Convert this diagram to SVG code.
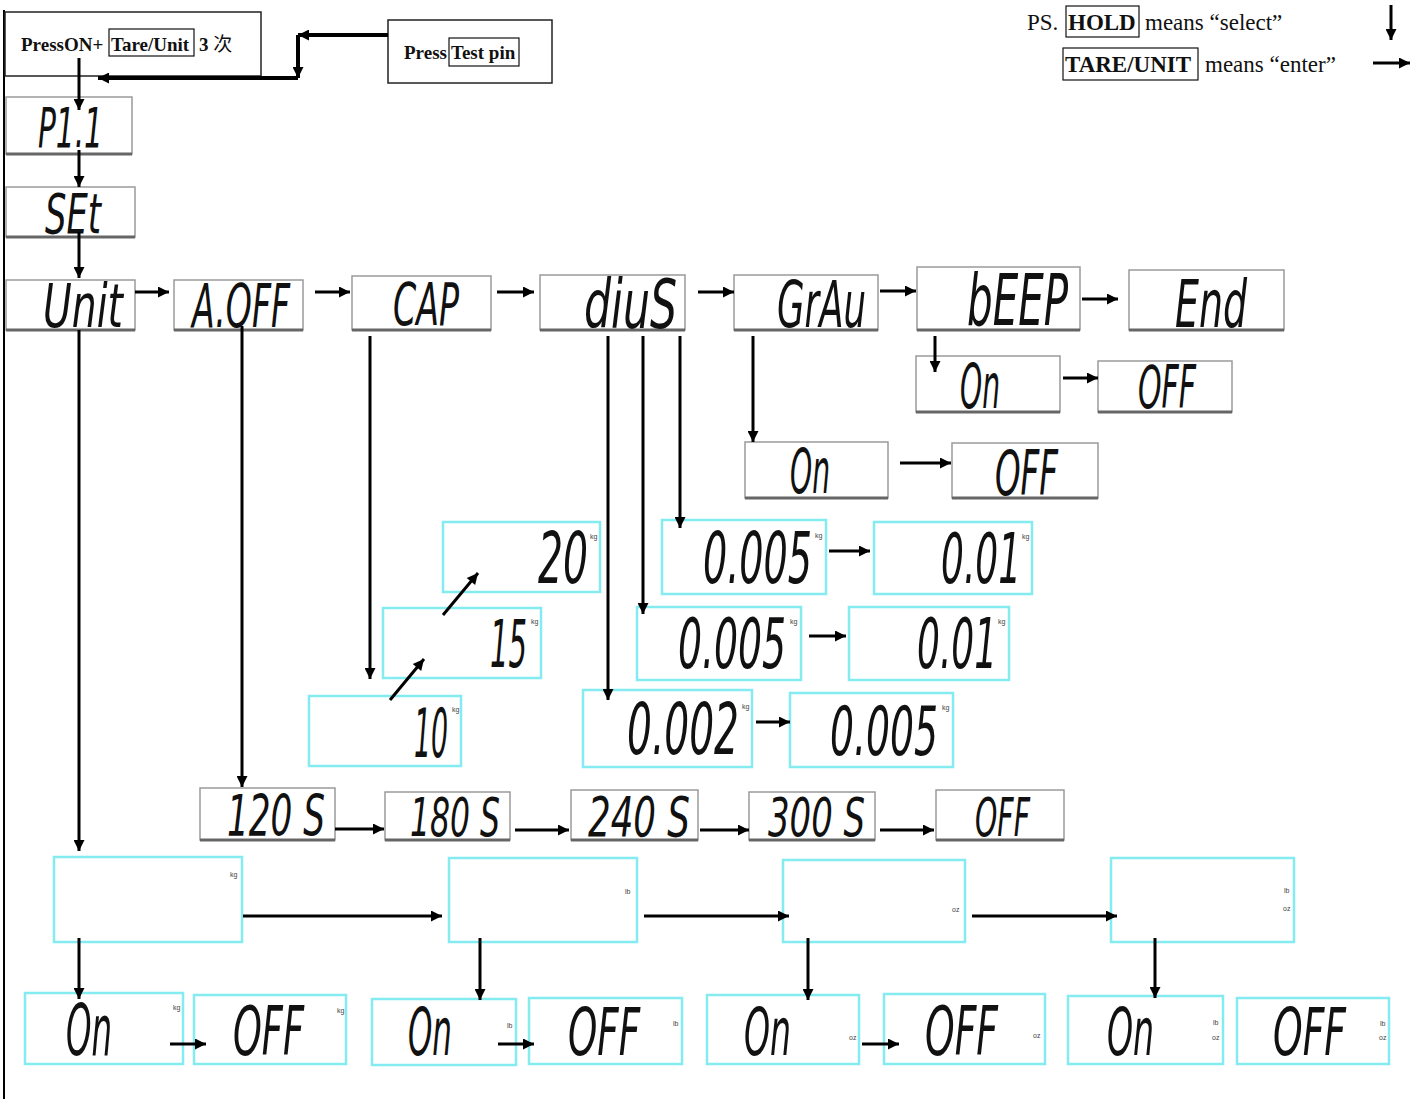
<svg xmlns="http://www.w3.org/2000/svg" width="1419" height="1099" viewBox="0 0 1419 1099">
<defs>
<marker id="ah" viewBox="0 0 10 10" refX="10" refY="5" markerWidth="13" markerHeight="11" markerUnits="userSpaceOnUse" orient="auto"><path d="M0,0 L10,5 L0,10 z" fill="#000"/></marker>
</defs>
<style>
.hd{font-family:"Liberation Serif","Times New Roman",serif;font-weight:bold;font-size:19px;fill:#111}
.lg{font-family:"Liberation Serif","Times New Roman",serif;font-size:23px;fill:#111}
.lgb{font-family:"Liberation Serif","Times New Roman",serif;font-size:23px;font-weight:bold;fill:#111}
.kbox{fill:none;stroke:#111;stroke-width:1.2}
.g rect{fill:#fff;stroke:#9a9a9a;stroke-width:1.5}
.g line{stroke:#666;stroke-width:3}
.c rect{fill:#fff;stroke:#84ecf0;stroke-width:2.5}
.lcd{font-family:"DejaVu Sans Condensed","DejaVu Sans",sans-serif;fill:#111;font-style:italic}
.u{font-family:"Liberation Sans",Arial,sans-serif;font-size:7px;fill:#444}
.cn path{fill:none;stroke:#000;stroke-width:3;marker-end:url(#ah)}
</style>
<rect width="1419" height="1099" fill="#fff"/>
<line x1="4" y1="10" x2="4" y2="1099" stroke="#000" stroke-width="2"/>

<g id="start1">
<rect x="5" y="12" width="256" height="64" fill="none" stroke="#222" stroke-width="1.5"/>
<text class="hd" x="21" y="51">PressON+</text>
<rect class="kbox" x="109" y="29" width="85" height="27"/>
<text class="hd" x="111" y="51">Tare/Unit</text>
<text class="hd" x="199" y="51">3 <tspan font-family="Noto Sans CJK SC,sans-serif" font-weight="normal">次</tspan></text>
</g>
<g id="start2">
<rect x="388" y="20" width="164" height="63" fill="none" stroke="#222" stroke-width="1.5"/>
<text class="hd" x="404" y="59">Press</text>
<rect class="kbox" x="449" y="38" width="70" height="28"/>
<text class="hd" x="451" y="59">Test pin</text>
</g>
<g id="legend">
<text class="lg" x="1027" y="30">PS.</text>
<rect class="kbox" x="1066" y="6" width="73" height="31"/>
<text class="lgb" x="1068" y="30">HOLD</text>
<text class="lg" x="1145" y="30">means “select”</text>
<rect class="kbox" x="1063" y="48" width="135" height="32"/>
<text class="lgb" x="1065" y="72">TARE/UNIT</text>
<text class="lg" x="1205" y="72">means “enter”</text>
</g>

<g id="n-p11" class="g"><rect x="6" y="97" width="126" height="57"/><line x1="6" y1="154" x2="132" y2="154"/><text class="lcd" transform="translate(38,147) scale(0.588,1)" font-size="56" textLength="110.5" lengthAdjust="spacingAndGlyphs">P1.1</text></g>
<g id="n-set" class="g"><rect x="6" y="187" width="129" height="50"/><line x1="6" y1="237" x2="135" y2="237"/><text class="lcd" transform="translate(45,233) scale(0.67,1)" font-size="56" textLength="83.6" lengthAdjust="spacingAndGlyphs">SEt</text></g>
<g id="n-unit" class="g"><rect x="6" y="280" width="129" height="50"/><line x1="6" y1="330" x2="135" y2="330"/><text class="lcd" transform="translate(43,327) scale(0.728,1)" font-size="60" textLength="109.9" lengthAdjust="spacingAndGlyphs">Unit</text></g>
<g id="n-aoff" class="g"><rect x="174" y="280" width="129" height="50"/><line x1="174" y1="330" x2="303" y2="330"/><text class="lcd" transform="translate(192,327) scale(0.618,1)" font-size="60" textLength="158.7" lengthAdjust="spacingAndGlyphs">A.OFF</text></g>
<g id="n-cap" class="g"><rect x="352" y="276" width="139" height="54"/><line x1="352" y1="330" x2="491" y2="330"/><text class="lcd" transform="translate(393,325) scale(0.626,1)" font-size="59" textLength="105.4" lengthAdjust="spacingAndGlyphs">CAP</text></g>
<g id="n-divs" class="g"><rect x="540" y="275" width="145" height="55"/><line x1="540" y1="330" x2="685" y2="330"/><text class="lcd" transform="translate(584,328) scale(0.697,1)" font-size="68" textLength="133.5" lengthAdjust="spacingAndGlyphs">diuS</text></g>
<g id="n-grav" class="g"><rect x="734" y="275" width="144" height="55"/><line x1="734" y1="330" x2="878" y2="330"/><text class="lcd" transform="translate(777,327) scale(0.617,1)" font-size="64" textLength="144.2" lengthAdjust="spacingAndGlyphs">GrAu</text></g>
<g id="n-beep" class="g"><rect x="917" y="267" width="163" height="63"/><line x1="917" y1="330" x2="1080" y2="330"/><text class="lcd" transform="translate(967,325) scale(0.632,1)" font-size="71" textLength="159.9" lengthAdjust="spacingAndGlyphs">bEEP</text></g>
<g id="n-end" class="g"><rect x="1129" y="270" width="155" height="60"/><line x1="1129" y1="330" x2="1284" y2="330"/><text class="lcd" transform="translate(1175,327) scale(0.638,1)" font-size="66" textLength="112.9" lengthAdjust="spacingAndGlyphs">End</text></g>
<g id="n-beep-on" class="g"><rect x="916" y="356" width="144" height="56"/><line x1="916" y1="412" x2="1060" y2="412"/><text class="lcd" transform="translate(960,408) scale(0.504,1)" font-size="62" textLength="79.3" lengthAdjust="spacingAndGlyphs">On</text></g>
<g id="n-beep-off" class="g"><rect x="1098" y="361" width="134" height="51"/><line x1="1098" y1="412" x2="1232" y2="412"/><text class="lcd" transform="translate(1138,408) scale(0.574,1)" font-size="58" textLength="101.1" lengthAdjust="spacingAndGlyphs">OFF</text></g>
<g id="n-grav-on" class="g"><rect x="745" y="442" width="143" height="56"/><line x1="745" y1="498" x2="888" y2="498"/><text class="lcd" transform="translate(790,493) scale(0.504,1)" font-size="62" textLength="79.3" lengthAdjust="spacingAndGlyphs">On</text></g>
<g id="n-grav-off" class="g"><rect x="952" y="443" width="146" height="55"/><line x1="952" y1="498" x2="1098" y2="498"/><text class="lcd" transform="translate(995,495) scale(0.574,1)" font-size="63" textLength="109.8" lengthAdjust="spacingAndGlyphs">OFF</text></g>

<g id="n-cap20" class="c"><rect x="443" y="522" width="157" height="70"/><text class="lcd" transform="translate(538,583) scale(0.615,1)" font-size="71" textLength="81.3" lengthAdjust="spacingAndGlyphs">20</text><text class="u" x="590" y="539">kg</text></g>
<g id="n-cap15" class="c"><rect x="383" y="608" width="158" height="70"/><text class="lcd" transform="translate(490,667) scale(0.49,1)" font-size="66" textLength="75.6" lengthAdjust="spacingAndGlyphs">15</text><text class="u" x="531" y="624">kg</text></g>
<g id="n-cap10" class="c"><rect x="309" y="696" width="152" height="70"/><text class="lcd" transform="translate(414,757) scale(0.437,1)" font-size="68" textLength="77.8" lengthAdjust="spacingAndGlyphs">10</text><text class="u" x="452" y="712">kg</text></g>

<g id="n-d1a" class="c"><rect x="662" y="520" width="164" height="74"/><text class="lcd" transform="translate(703,583) scale(0.596,1)" font-size="71" textLength="182.9" lengthAdjust="spacingAndGlyphs">0.005</text><text class="u" x="815" y="538">kg</text></g>
<g id="n-d1b" class="c"><rect x="874" y="522" width="158" height="72"/><text class="lcd" transform="translate(941,583) scale(0.571,1)" font-size="70" textLength="140.2" lengthAdjust="spacingAndGlyphs">0.01</text><text class="u" x="1022" y="539">kg</text></g>
<g id="n-d2a" class="c"><rect x="637" y="607" width="164" height="73"/><text class="lcd" transform="translate(678,668) scale(0.599,1)" font-size="70" textLength="180.3" lengthAdjust="spacingAndGlyphs">0.005</text><text class="u" x="790" y="624">kg</text></g>
<g id="n-d2b" class="c"><rect x="849" y="607" width="160" height="73"/><text class="lcd" transform="translate(917,668) scale(0.571,1)" font-size="70" textLength="140.2" lengthAdjust="spacingAndGlyphs">0.01</text><text class="u" x="998" y="624">kg</text></g>
<g id="n-d3a" class="c"><rect x="583" y="690" width="169" height="77"/><text class="lcd" transform="translate(627,754) scale(0.612,1)" font-size="71" textLength="182.9" lengthAdjust="spacingAndGlyphs">0.002</text><text class="u" x="742" y="709">kg</text></g>
<g id="n-d3b" class="c"><rect x="790" y="693" width="163" height="74"/><text class="lcd" transform="translate(830,755) scale(0.616,1)" font-size="68" textLength="175.2" lengthAdjust="spacingAndGlyphs">0.005</text><text class="u" x="942" y="710">kg</text></g>

<g id="n-t120" class="g"><rect x="200" y="788" width="135" height="52"/><line x1="200" y1="840" x2="335" y2="840"/><text class="lcd" transform="translate(227,836) scale(0.68,1)" font-size="56" textLength="144.2" lengthAdjust="spacingAndGlyphs">120 S</text></g>
<g id="n-t180" class="g"><rect x="385" y="792" width="125" height="48"/><line x1="385" y1="840" x2="510" y2="840"/><text class="lcd" transform="translate(410,836) scale(0.647,1)" font-size="54" textLength="139" lengthAdjust="spacingAndGlyphs">180 S</text></g>
<g id="n-t240" class="g"><rect x="571" y="790" width="127" height="50"/><line x1="571" y1="840" x2="698" y2="840"/><text class="lcd" transform="translate(588,836) scale(0.707,1)" font-size="56" textLength="144.2" lengthAdjust="spacingAndGlyphs">240 S</text></g>
<g id="n-t300" class="g"><rect x="749" y="792" width="126" height="48"/><line x1="749" y1="840" x2="875" y2="840"/><text class="lcd" transform="translate(768,836) scale(0.698,1)" font-size="54" textLength="139" lengthAdjust="spacingAndGlyphs">300 S</text></g>
<g id="n-toff" class="g"><rect x="936" y="790" width="128" height="50"/><line x1="936" y1="840" x2="1064" y2="840"/><text class="lcd" transform="translate(975,836) scale(0.584,1)" font-size="54" textLength="94.1" lengthAdjust="spacingAndGlyphs">OFF</text></g>

<g id="n-ukg" class="c"><rect x="54" y="857" width="188" height="85"/><text class="u" x="230" y="877" font-size="9">kg</text></g>
<g id="n-ulb" class="c"><rect x="449" y="858" width="188" height="84"/><text class="u" x="625" y="894" font-size="9">lb</text></g>
<g id="n-uoz" class="c"><rect x="783" y="860" width="182" height="82"/><text class="u" x="952" y="912" font-size="9">oz</text></g>
<g id="n-ulboz" class="c"><rect x="1111" y="858" width="183" height="84"/><text class="u" x="1284" y="893" font-size="9">lb</text><text class="u" x="1283" y="911" font-size="9">oz</text></g>

<g id="n-kg-on" class="c"><rect x="25" y="993" width="158" height="71"/><text class="lcd" transform="translate(66,1055) scale(0.507,1)" font-size="71" textLength="90.8" lengthAdjust="spacingAndGlyphs">On</text><text class="u" x="173" y="1010">kg</text></g>
<g id="n-kg-off" class="c"><rect x="194" y="995" width="152" height="69"/><text class="lcd" transform="translate(233,1055) scale(0.599,1)" font-size="68" textLength="118.5" lengthAdjust="spacingAndGlyphs">OFF</text><text class="u" x="337" y="1013">kg</text></g>
<g id="n-lb-on" class="c"><rect x="372" y="999" width="144" height="66"/><text class="lcd" transform="translate(408,1055) scale(0.529,1)" font-size="65" textLength="83.1" lengthAdjust="spacingAndGlyphs">On</text><text class="u" x="507" y="1028">lb</text></g>
<g id="n-lb-off" class="c"><rect x="529" y="998" width="153" height="66"/><text class="lcd" transform="translate(568,1055) scale(0.626,1)" font-size="66" textLength="115.1" lengthAdjust="spacingAndGlyphs">OFF</text><text class="u" x="673" y="1026">lb</text></g>
<g id="n-oz-on" class="c"><rect x="707" y="995" width="152" height="69"/><text class="lcd" transform="translate(744,1055) scale(0.557,1)" font-size="66" textLength="84.4" lengthAdjust="spacingAndGlyphs">On</text><text class="u" x="849" y="1040">oz</text></g>
<g id="n-oz-off" class="c"><rect x="884" y="994" width="161" height="70"/><text class="lcd" transform="translate(925,1055) scale(0.616,1)" font-size="68" textLength="118.5" lengthAdjust="spacingAndGlyphs">OFF</text><text class="u" x="1033" y="1038">oz</text></g>
<g id="n-lboz-on" class="c"><rect x="1068" y="996" width="155" height="68"/><text class="lcd" transform="translate(1107,1055) scale(0.566,1)" font-size="65" textLength="83.1" lengthAdjust="spacingAndGlyphs">On</text><text class="u" x="1213" y="1025">lb</text><text class="u" x="1212" y="1040">oz</text></g>
<g id="n-lboz-off" class="c"><rect x="1237" y="998" width="152" height="66"/><text class="lcd" transform="translate(1273,1055) scale(0.644,1)" font-size="65" textLength="113.3" lengthAdjust="spacingAndGlyphs">OFF</text><text class="u" x="1380" y="1026">lb</text><text class="u" x="1379" y="1040">oz</text></g>

<g id="connectors" class="cn">
<path d="M388,35 H298" style="stroke-width:4"/>
<path d="M298,35 V78" style="stroke-width:4"/>
<path d="M298,78 H98" style="stroke-width:4"/>
<path d="M79,58 V110"/>
<path d="M79,150 V187"/>
<path d="M79,232 V278"/>
<path d="M135,292 H169"/>
<path d="M315,292 H350"/>
<path d="M497,292 H534"/>
<path d="M698,292 H734"/>
<path d="M880,291 H916"/>
<path d="M1082,299 H1118"/>
<path d="M935,336 V372"/>
<path d="M1063,378 H1098"/>
<path d="M753,336 V442"/>
<path d="M900,463 H951"/>
<path d="M370,336 V679"/>
<path d="M390,700 L424,659"/>
<path d="M443,615 L478,573"/>
<path d="M608,336 V700"/>
<path d="M643,336 V614"/>
<path d="M680,336 V528"/>
<path d="M829,551 H870"/>
<path d="M809,636 H846"/>
<path d="M756,722 H790"/>
<path d="M242,326 V787"/>
<path d="M335,829 H384"/>
<path d="M515,830 H569"/>
<path d="M700,830 H749"/>
<path d="M880,830 H934"/>
<path d="M79,330 V851"/>
<path d="M243,916 H442"/>
<path d="M644,916 H789"/>
<path d="M972,916 H1117"/>
<path d="M79,938 V999"/>
<path d="M480,938 V1000"/>
<path d="M808,938 V1000"/>
<path d="M1155,938 V998"/>
<path d="M170,1044 H206"/>
<path d="M498,1044 H534"/>
<path d="M862,1044 H899"/>
<path d="M1391,5 V40"/>
<path d="M1373,63 H1410"/>
</g>
</svg>
